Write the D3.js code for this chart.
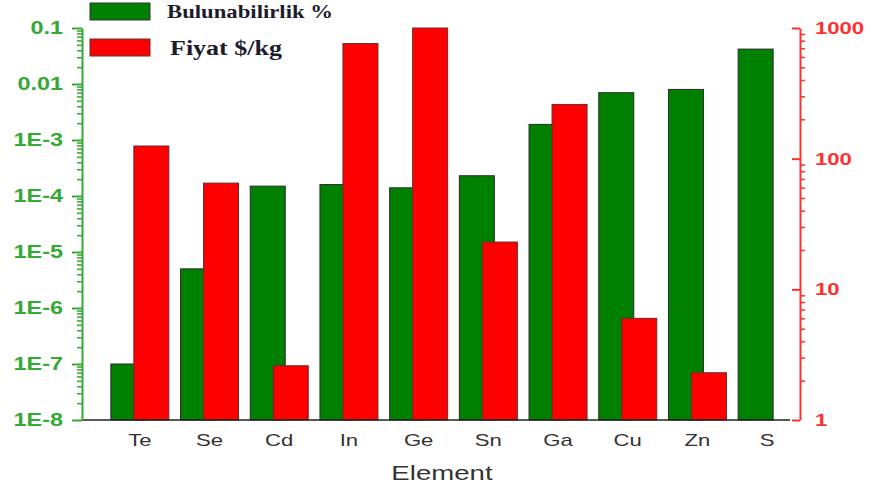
<!DOCTYPE html>
<html>
<head>
<meta charset="utf-8">
<script src="https://cdn.jsdelivr.net/npm/d3@7"></script>
<style>
  html, body { margin: 0; padding: 0; background: #fff; }
  svg { display: block; }
</style>
</head>
<body>
<svg id="chart" width="873" height="490"></svg>
<script>
// Elements and their crustal abundance (%) and price ($/kg)
const elements = ["Te", "Se", "Cd", "In", "Ge", "Sn", "Ga", "Cu", "Zn", "S"];
const abundance = [1e-7, 5e-6, 1.5e-4, 1.6e-4, 1.4e-4, 2.3e-4, 1.9e-3, 7e-3, 8e-3, 0.042];
const price = [125, 65, 2.6, 760, 1000, 23, 260, 6, 2.3, null];

const leftTickValues = [1e-8, 1e-7, 1e-6, 1e-5, 1e-4, 1e-3, 0.01, 0.1];
const leftTickLabels = ["1E-8", "1E-7", "1E-6", "1E-5", "1E-4", "1E-3", "0.01", "0.1"];
const rightTickValues = [1, 10, 100, 1000];
const rightTickLabels = ["1", "10", "100", "1000"];

const seriesNames = ["Bulunabilirlik %", "Fiyat $/kg"];
const xTitle = "Element";

const GREEN = "#008000";
const RED = "#ff0000";
const AXIS_GREEN = "#36a836";
const AXIS_RED = "#ff3030";

const svg = d3.select("#chart");

const plot = { left: 82, right: 800, top: 28, bottom: 420 };

const x = d3.scaleBand().domain(elements).range([105, 802]).padding(0);
const yL = d3.scaleLog().domain([1e-8, 0.1]).range([plot.bottom, plot.top]);
const yR = d3.scaleLog().domain([1, 1000]).range([plot.bottom, plot.top]);

const barW = 35;
const greenOff = -29;
const redOff = -6;

// widen text glyphs horizontally by a factor
function widen(sel, k) {
  sel.each(function () {
    const w = this.getComputedTextLength();
    d3.select(this).attr("textLength", w * k).attr("lengthAdjust", "spacingAndGlyphs");
  });
}

// minor log ticks (2..9 in each decade)
function minorTicks(lo, hi) {
  const out = [];
  for (let e = Math.round(Math.log10(lo)); e < Math.round(Math.log10(hi)); e++) {
    for (let m = 2; m <= 9; m++) out.push(m * Math.pow(10, e));
  }
  return out;
}

// green abundance bars
svg.append("g").selectAll("rect")
  .data(elements.map((e, i) => ({ e, v: abundance[i] })))
  .join("rect")
  .attr("x", d => x(d.e) + x.bandwidth() / 2 + greenOff)
  .attr("y", d => yL(d.v))
  .attr("width", barW)
  .attr("height", d => yL(1e-8) - yL(d.v))
  .attr("fill", GREEN)
  .attr("stroke", "#2a2a2a")
  .attr("stroke-width", 1);

// red price bars, drawn over the green ones
svg.append("g").selectAll("rect")
  .data(elements.map((e, i) => ({ e, v: price[i] })).filter(d => d.v != null))
  .join("rect")
  .attr("x", d => x(d.e) + x.bandwidth() / 2 + redOff)
  .attr("y", d => yR(d.v))
  .attr("width", barW)
  .attr("height", d => yR(1) - yR(d.v))
  .attr("fill", RED)
  .attr("stroke", "#6a2a2a")
  .attr("stroke-width", 1);

// bottom axis
const xAxis = svg.append("g")
  .attr("transform", `translate(0,${plot.bottom})`);
xAxis.append("line")
  .attr("x1", plot.left).attr("x2", plot.right - 10)
  .attr("stroke", "#222").attr("stroke-width", 1.5);
xAxis.selectAll("text.cat")
  .data(elements)
  .join("text")
  .attr("class", "cat")
  .attr("x", d => x(d) + x.bandwidth() / 2)
  .attr("y", 26)
  .attr("text-anchor", "middle")
  .attr("font-family", "Liberation Sans, Arial, sans-serif")
  .attr("font-size", 17)
  .attr("fill", "#333")
  .text(d => d)
  .call(widen, 1.3);

svg.append("text")
  .attr("x", 442).attr("y", 480)
  .attr("text-anchor", "middle")
  .attr("font-family", "Liberation Sans, Arial, sans-serif")
  .attr("font-size", 20)
  .attr("fill", "#333")
  .text(xTitle)
  .call(widen, 1.38);

// left axis (abundance)
const leftAxis = svg.append("g").attr("transform", `translate(${plot.left},0)`);
leftAxis.call(d3.axisLeft(yL).tickValues(minorTicks(1e-8, 0.1)).tickSize(5).tickFormat(""));
leftAxis.call(g => g.selectAll(".tick line").attr("stroke", AXIS_GREEN).attr("stroke-width", 1.5));
leftAxis.call(g => g.select(".domain").remove());
const leftMajor = svg.append("g").attr("transform", `translate(${plot.left},0)`)
  .call(d3.axisLeft(yL).tickValues(leftTickValues).tickSize(10).tickSizeOuter(0)
    .tickFormat((d, i) => leftTickLabels[i]));
leftMajor.select(".domain").attr("stroke", AXIS_GREEN).attr("stroke-width", 2);
leftMajor.selectAll(".tick line").attr("stroke", AXIS_GREEN).attr("stroke-width", 2);
leftMajor.selectAll(".tick text")
  .attr("fill", AXIS_GREEN)
  .attr("font-family", "Liberation Sans, Arial, sans-serif")
  .attr("font-weight", "bold")
  .attr("font-size", 18)
  .attr("x", -19)
  .call(widen, 1.3);

// right axis (price)
const rightAxis = svg.append("g").attr("transform", `translate(${plot.right},0)`);
rightAxis.call(d3.axisRight(yR).tickValues(minorTicks(1, 1000)).tickSize(5).tickFormat(""));
rightAxis.call(g => g.selectAll(".tick line").attr("stroke", AXIS_RED).attr("stroke-width", 1.5));
rightAxis.call(g => g.select(".domain").remove());
const rightMajor = svg.append("g").attr("transform", `translate(${plot.right},0)`)
  .call(d3.axisRight(yR).tickValues(rightTickValues).tickSize(-8).tickSizeOuter(0)
    .tickFormat((d, i) => rightTickLabels[i]));
rightMajor.select(".domain").attr("stroke", AXIS_RED).attr("stroke-width", 2);
rightMajor.selectAll(".tick line").attr("stroke", AXIS_RED).attr("stroke-width", 2);
rightMajor.selectAll(".tick text")
  .attr("fill", AXIS_RED)
  .attr("font-family", "Liberation Sans, Arial, sans-serif")
  .attr("font-weight", "bold")
  .attr("font-size", 17)
  .attr("x", 15)
  .call(widen, 1.3);

// legend
const legend = svg.append("g");
legend.append("rect").attr("x", 90).attr("y", 3).attr("width", 60).attr("height", 17)
  .attr("fill", GREEN).attr("stroke", "#333");
legend.append("text").attr("x", 167).attr("y", 18)
  .attr("font-family", "Liberation Serif, Times New Roman, serif")
  .attr("font-size", 19).attr("font-weight", "bold").attr("fill", "#1c1c2c")
  .attr("textLength", 166).attr("lengthAdjust", "spacingAndGlyphs")
  .text(seriesNames[0]);
legend.append("rect").attr("x", 90).attr("y", 39).attr("width", 60).attr("height", 17)
  .attr("fill", RED).attr("stroke", "#633");
legend.append("text").attr("x", 170).attr("y", 55)
  .attr("font-family", "Liberation Serif, Times New Roman, serif")
  .attr("font-size", 20).attr("font-weight", "bold").attr("fill", "#1c1c2c")
  .attr("textLength", 112).attr("lengthAdjust", "spacingAndGlyphs")
  .text(seriesNames[1]);
</script>
</body>
</html>
